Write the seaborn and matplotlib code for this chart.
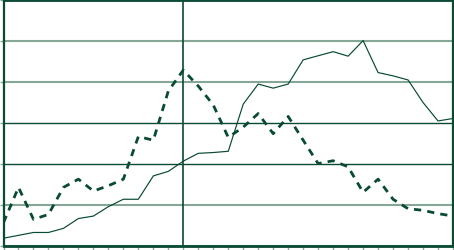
import matplotlib
matplotlib.use("Agg")
import matplotlib.pyplot as plt
import seaborn as sns
import pandas as pd
import numpy as np

# Data (31 periods, y-scale 0..60)
periods = list(range(31))
solid_vals = [1.9, 2.6, 3.3, 3.3, 4.3, 6.7, 7.3, 9.6, 11.4, 11.4, 17.1, 18.2, 20.7,
              22.6, 22.8, 23.1, 34.6, 39.5, 38.5, 39.5, 45.4, 46.4, 47.4, 46.3, 50.1,
              42.3, 41.5, 40.5, 35.0, 30.5, 31.1]
dashed_vals = [5.7, 14.3, 6.5, 7.7, 14.3, 16.3, 13.4, 14.7, 16.3, 26.7, 25.8, 37.8, 42.9,
               39.0, 34.4, 26.5, 29.0, 32.3, 27.4, 31.6, 25.8, 20.1, 20.8, 19.3, 13.1,
               16.3, 11.4, 9.1, 8.7, 7.9, 7.3]
y_ticks = [0, 10, 20, 30, 40, 50, 60]
marker_period = 12

df = pd.DataFrame({"period": periods * 2,
                   "value": solid_vals + dashed_vals,
                   "series": ["A"] * 31 + ["B"] * 31})

sns.set_style("white")
DARK = "#084a32"
LIGHT = "#86a698"

W, H = 454, 251
fig = plt.figure(figsize=(W / 100, H / 100), dpi=100)
left, right, top, bottom = 3.5, 453.0, 1.0, 247.0
ax = fig.add_axes([left / W, (H - bottom) / H, (right - left) / W, (bottom - top) / H])

sns.lineplot(data=df[df.series == "A"], x="period", y="value", ax=ax,
             color=DARK, linewidth=0.85, zorder=3)
sns.lineplot(data=df[df.series == "B"], x="period", y="value", ax=ax,
             color=DARK, linewidth=2.0, zorder=3)
ax.lines[-1].set_dashes([2.6, 2.2])

ax.set_xlim(0, 30)
ax.set_ylim(0, 60)
ax.set_xticks(periods)
ax.set_yticks(y_ticks)
ax.set_xticklabels([])
ax.set_yticklabels([])
ax.set_xlabel("")
ax.set_ylabel("")

ax.yaxis.grid(True, linewidth=1.5)
gl = ax.get_ygridlines()
grid_colors = [LIGHT, LIGHT, DARK, DARK, LIGHT, LIGHT, DARK]
grid_widths = [1.5, 1.5, 1.0, 1.0, 1.5, 1.5, 1.0]
for g, c, w in zip(gl, grid_colors, grid_widths):
    g.set_color(c)
    g.set_linewidth(w)
ax.set_axisbelow(True)

ax.axvline(marker_period, color=DARK, linewidth=1.2, zorder=2)

for side, lw in [("left", 1.6), ("bottom", 2.0), ("top", 2.0), ("right", 1.6)]:
    ax.spines[side].set_visible(True)
    ax.spines[side].set_color(DARK)
    ax.spines[side].set_linewidth(lw)

ax.tick_params(axis="x", direction="out", length=4, width=1.0, color=LIGHT, bottom=True)
ax.tick_params(axis="y", direction="out", length=3, width=1.0, color=LIGHT, left=True)

fig.savefig("out.png", dpi=100)
